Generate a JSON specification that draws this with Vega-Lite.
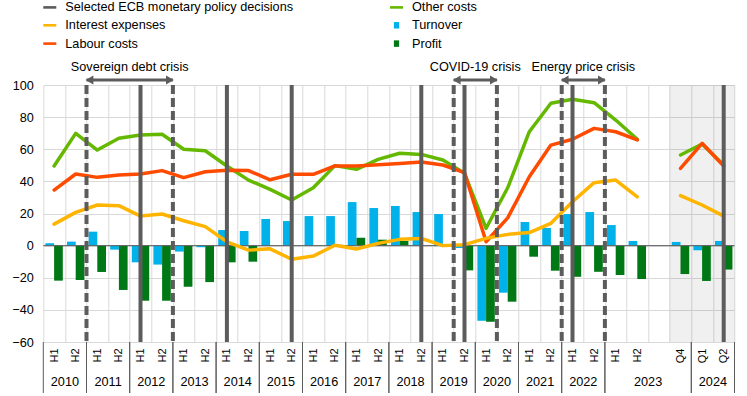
{
  "$schema": "https://vega.github.io/schema/vega-lite/v6.json",
  "width": 691.2,
  "height": 257,
  "autosize": {"type": "none"},
  "padding": {"left": 43.3, "top": 85, "right": 12.5, "bottom": 54},
  "background": "white",
  "config": {
    "font": "Liberation Sans",
    "view": {"stroke": null},
    "axis": {"labelFont": "Liberation Sans", "labelColor": "#000000", "title": null}
  },
  "datasets": {
    "costs": [
      {"period": "2010 H1", "freq": "half-year", "Turnover": 1.5, "Profit": -21.8, "Labour costs": 34.6, "Other costs": 49.6, "Interest expenses": 13.4},
      {"period": "2010 H2", "freq": "half-year", "Turnover": 2.5, "Profit": -21.4, "Labour costs": 44.6, "Other costs": 69.9, "Interest expenses": 20.7},
      {"period": "2011 H1", "freq": "half-year", "Turnover": 8.7, "Profit": -16.4, "Labour costs": 42.5, "Other costs": 59.5, "Interest expenses": 25.3},
      {"period": "2011 H2", "freq": "half-year", "Turnover": -2.5, "Profit": -27.6, "Labour costs": 44, "Other costs": 66.8, "Interest expenses": 24.9},
      {"period": "2012 H1", "freq": "half-year", "Turnover": -10.4, "Profit": -34.3, "Labour costs": 44.6, "Other costs": 68.9, "Interest expenses": 18.4},
      {"period": "2012 H2", "freq": "half-year", "Turnover": -11.8, "Profit": -34.3, "Labour costs": 46.7, "Other costs": 69.3, "Interest expenses": 19.7},
      {"period": "2013 H1", "freq": "half-year", "Turnover": -3.7, "Profit": -25.6, "Labour costs": 42.3, "Other costs": 60, "Interest expenses": 15.5},
      {"period": "2013 H2", "freq": "half-year", "Turnover": -1, "Profit": -22.7, "Labour costs": 46, "Other costs": 59.1, "Interest expenses": 11.8},
      {"period": "2014 H1", "freq": "half-year", "Turnover": 9.7, "Profit": -10.4, "Labour costs": 47, "Other costs": 49.6, "Interest expenses": 2.4},
      {"period": "2014 H2", "freq": "half-year", "Turnover": 9.1, "Profit": -10, "Labour costs": 46.7, "Other costs": 40.8, "Interest expenses": -2.8},
      {"period": "2015 H1", "freq": "half-year", "Turnover": 16.6, "Profit": 0, "Labour costs": 41, "Other costs": 35, "Interest expenses": -2},
      {"period": "2015 H2", "freq": "half-year", "Turnover": 15.3, "Profit": 0, "Labour costs": 44.4, "Other costs": 28.4, "Interest expenses": -8.5},
      {"period": "2016 H1", "freq": "half-year", "Turnover": 18.4, "Profit": 0, "Labour costs": 44.4, "Other costs": 36, "Interest expenses": -6.5},
      {"period": "2016 H2", "freq": "half-year", "Turnover": 18.4, "Profit": 0.5, "Labour costs": 49.6, "Other costs": 49.8, "Interest expenses": 0.2},
      {"period": "2017 H1", "freq": "half-year", "Turnover": 27.1, "Profit": 4.9, "Labour costs": 49.6, "Other costs": 47.5, "Interest expenses": -2.1},
      {"period": "2017 H2", "freq": "half-year", "Turnover": 23.4, "Profit": 3.7, "Labour costs": 50.4, "Other costs": 53.7, "Interest expenses": 1.4},
      {"period": "2018 H1", "freq": "half-year", "Turnover": 24.7, "Profit": 2.9, "Labour costs": 51.2, "Other costs": 57.5, "Interest expenses": 3.9},
      {"period": "2018 H2", "freq": "half-year", "Turnover": 20.9, "Profit": 0, "Labour costs": 52, "Other costs": 56.8, "Interest expenses": 4.5},
      {"period": "2019 H1", "freq": "half-year", "Turnover": 19.7, "Profit": 0, "Labour costs": 50.2, "Other costs": 53.3, "Interest expenses": 0},
      {"period": "2019 H2", "freq": "half-year", "Turnover": -1.5, "Profit": -15.4, "Labour costs": 45.4, "Other costs": 45, "Interest expenses": 0.6},
      {"period": "2020 H1", "freq": "half-year", "Turnover": -46.8, "Profit": -47.4, "Labour costs": 2.4, "Other costs": 10.8, "Interest expenses": 4.5},
      {"period": "2020 H2", "freq": "half-year", "Turnover": -29.3, "Profit": -34.9, "Labour costs": 17.3, "Other costs": 36, "Interest expenses": 7},
      {"period": "2021 H1", "freq": "half-year", "Turnover": 14.7, "Profit": -6.9, "Labour costs": 42.9, "Other costs": 70.9, "Interest expenses": 8.1},
      {"period": "2021 H2", "freq": "half-year", "Turnover": 11, "Profit": -15.6, "Labour costs": 62.6, "Other costs": 88.6, "Interest expenses": 13.9},
      {"period": "2022 H1", "freq": "half-year", "Turnover": 19.7, "Profit": -19.4, "Labour costs": 66.2, "Other costs": 91.1, "Interest expenses": 27.3},
      {"period": "2022 H2", "freq": "half-year", "Turnover": 20.9, "Profit": -16.3, "Labour costs": 73, "Other costs": 89, "Interest expenses": 39.2},
      {"period": "2023 H1", "freq": "half-year", "Turnover": 12.8, "Profit": -18.3, "Labour costs": 70.9, "Other costs": 78.2, "Interest expenses": 40.8},
      {"period": "2023 H2", "freq": "half-year", "Turnover": 2.9, "Profit": -20.8, "Labour costs": 65.8, "Other costs": 66.2, "Interest expenses": 30.4},
      {"period": "2023 Q4", "freq": "quarter", "Turnover": 2.3, "Profit": -17.7, "Labour costs": 48.1, "Other costs": 56.4, "Interest expenses": 31.1},
      {"period": "2024 Q1", "freq": "quarter", "Turnover": -2.9, "Profit": -22, "Labour costs": 63.7, "Other costs": 63.3, "Interest expenses": 25.3},
      {"period": "2024 Q2", "freq": "quarter", "Turnover": 2.9, "Profit": -14.9, "Labour costs": 49.6, "Other costs": 50.2, "Interest expenses": 18.4}
    ],
    "decisions": [
      {"period": "2012 H1"}, {"period": "2014 H1"}, {"period": "2015 H2"}, {"period": "2018 H2"},
      {"period": "2019 H2"}, {"period": "2022 H1"}, {"period": "2024 Q2"}
    ],
    "crises": [
      {"crisis": "Sovereign debt crisis", "start": "2011 H1", "mid": "2012 H1", "end": "2013 H1"},
      {"crisis": "COVID-19 crisis", "start": "2019 H2", "mid": "2020 H1", "end": "2020 H2"},
      {"crisis": "Energy price crisis", "start": "2022 H1", "mid": "2022 H2", "end": "2023 H1"}
    ],
    "years": [
      {"year": "2010", "first": "2010 H1", "center": "2010 H2", "last": "2010 H2"},
      {"year": "2011", "first": "2011 H1", "center": "2011 H2", "last": "2011 H2"},
      {"year": "2012", "first": "2012 H1", "center": "2012 H2", "last": "2012 H2"},
      {"year": "2013", "first": "2013 H1", "center": "2013 H2", "last": "2013 H2"},
      {"year": "2014", "first": "2014 H1", "center": "2014 H2", "last": "2014 H2"},
      {"year": "2015", "first": "2015 H1", "center": "2015 H2", "last": "2015 H2"},
      {"year": "2016", "first": "2016 H1", "center": "2016 H2", "last": "2016 H2"},
      {"year": "2017", "first": "2017 H1", "center": "2017 H2", "last": "2017 H2"},
      {"year": "2018", "first": "2018 H1", "center": "2018 H2", "last": "2018 H2"},
      {"year": "2019", "first": "2019 H1", "center": "2019 H2", "last": "2019 H2"},
      {"year": "2020", "first": "2020 H1", "center": "2020 H2", "last": "2020 H2"},
      {"year": "2021", "first": "2021 H1", "center": "2021 H2", "last": "2021 H2"},
      {"year": "2022", "first": "2022 H1", "center": "2022 H2", "last": "2022 H2"},
      {"year": "2023", "first": "2023 H1", "center": "2023 gap", "last": "2023 Q4"},
      {"year": "2024", "first": "2024 Q1", "center": "2024 Q2", "last": "2024 Q2"}
    ]
  },
  "layer": [
    {
      "data": {"name": "costs"},
      "transform": [{"filter": "datum.freq === 'quarter'"}],
      "mark": {"type": "bar", "color": "#000000", "opacity": 0.06},
      "encoding": {
        "x": {
          "field": "period", "type": "nominal", "sort": null,
          "scale": {
            "domain": ["2010 H1","2010 H2","2011 H1","2011 H2","2012 H1","2012 H2","2013 H1","2013 H2","2014 H1","2014 H2","2015 H1","2015 H2","2016 H1","2016 H2","2017 H1","2017 H2","2018 H1","2018 H2","2019 H1","2019 H2","2020 H1","2020 H2","2021 H1","2021 H2","2022 H1","2022 H2","2023 H1","2023 H2","2023 gap","2023 Q4","2024 Q1","2024 Q2"],
            "paddingInner": 0, "paddingOuter": 0
          },
          "axis": {"orient": "bottom", "tickBand": "extent", "grid": true, "gridColor": "#d9d9d9", "ticks": false, "domain": false, "labelAngle": 270, "labelPadding": 6, "labelFontSize": 11, "labelOverlap": false, "labelExpr": "isString(datum.value) && indexof(datum.value, 'gap') < 0 ? slice(datum.value, 5) : ''"}
        },
        "y": {"datum": 100, "type": "quantitative"},
        "y2": {"datum": -60}
      }
    },
    {
      "data": {"name": "costs"},
      "transform": [{"fold": ["Turnover", "Profit"], "as": ["series", "value"]}],
      "mark": {"type": "bar"},
      "encoding": {
        "x": {"field": "period", "type": "nominal", "sort": null},
        "xOffset": {"field": "series", "type": "nominal", "sort": ["Turnover", "Profit"], "scale": {"paddingInner": 0, "paddingOuter": 0.24}},
        "y": {
          "field": "value", "type": "quantitative",
          "scale": {"domain": [-60, 100], "nice": false, "zero": false},
          "axis": {"title": null, "values": [-60, -40, -20, 0, 20, 40, 60, 80, 100], "tickCount": 20, "grid": true, "gridColor": "#d9d9d9", "ticks": false, "domain": false, "labelPadding": 10, "labelFontSize": 12.7}
        },
        "color": {
          "field": "series", "type": "nominal",
          "scale": {
            "domain": ["Selected ECB monetary policy decisions", "Interest expenses", "Labour costs", "Other costs", "Turnover", "Profit"],
            "range": ["#5c5c5c", "#ffb400", "#ff4b00", "#65b800", "#00b1ea", "#007816"]
          },
          "legend": {
            "title": null, "orient": "none", "legendX": 0, "legendY": -84.5, "columns": 2, "columnPadding": 96.7, "rowPadding": 4.3,
            "symbolSize": 169, "labelOffset": 9, "labelFontSize": 12.7, "labelColor": "#000000", "labelLimit": 400,
            "encode": {
              "symbols": {
                "update": {
                  "shape": {"signal": "(datum.value === 'Turnover' || datum.value === 'Profit') ? 'M-0.4,-0.5H0.4V0.5H-0.4Z' : 'M-1,-0.2H1V0.2H-1Z'"},
                  "fill": {"scale": "color", "field": "value"},
                  "stroke": {"value": "transparent"},
                  "strokeWidth": {"value": 0},
                  "opacity": {"value": 1}
                }
              }
            }
          }
        }
      }
    },
    {
      "data": {"values": [{}]},
      "mark": {"type": "rule", "color": "#5c5c5c", "strokeWidth": 1},
      "encoding": {"y": {"datum": 0, "type": "quantitative"}}
    },
    {
      "data": {"name": "costs"},
      "transform": [{"fold": ["Other costs", "Labour costs", "Interest expenses"], "as": ["series", "value"]}],
      "mark": {"type": "line", "strokeWidth": 3.5, "strokeCap": "round", "strokeJoin": "round"},
      "encoding": {
        "x": {"field": "period", "type": "nominal", "sort": null},
        "y": {"field": "value", "type": "quantitative"},
        "color": {"field": "series", "type": "nominal"},
        "detail": {"field": "freq", "type": "nominal"}
      }
    },
    {
      "data": {"name": "decisions"},
      "mark": {"type": "rule", "strokeWidth": 4},
      "encoding": {
        "x": {"field": "period", "type": "nominal", "sort": null, "bandPosition": 0.5},
        "color": {"datum": "Selected ECB monetary policy decisions", "type": "nominal"}
      }
    },
    {
      "data": {"name": "crises"},
      "transform": [{"fold": ["start", "end"], "as": ["edge", "period"]}],
      "mark": {"type": "rule", "strokeWidth": 4, "strokeDash": [9, 4], "color": "#5c5c5c"},
      "encoding": {
        "x": {"field": "period", "type": "nominal", "sort": null, "bandPosition": 0}
      }
    },
    {
      "data": {"name": "crises"},
      "transform": [{"fold": ["start", "end"], "as": ["edge", "period"]}],
      "mark": {"type": "line", "strokeWidth": 3, "color": "#5c5c5c"},
      "encoding": {
        "x": {"field": "period", "type": "nominal", "sort": null, "bandPosition": 0},
        "y": {"datum": 103.1, "type": "quantitative"},
        "detail": {"field": "crisis", "type": "nominal"}
      }
    },
    {
      "data": {"name": "crises"},
      "mark": {"type": "point", "shape": "triangle-left", "filled": true, "size": 80, "opacity": 1, "color": "#5c5c5c", "xOffset": 3},
      "encoding": {
        "x": {"field": "start", "type": "nominal", "sort": null, "bandPosition": 0},
        "y": {"datum": 103.1, "type": "quantitative"}
      }
    },
    {
      "data": {"name": "crises"},
      "mark": {"type": "point", "shape": "triangle-right", "filled": true, "size": 80, "opacity": 1, "color": "#5c5c5c", "xOffset": -3},
      "encoding": {
        "x": {"field": "end", "type": "nominal", "sort": null, "bandPosition": 0},
        "y": {"datum": 103.1, "type": "quantitative"}
      }
    },
    {
      "data": {"name": "crises"},
      "mark": {"type": "text", "fontSize": 12.7, "color": "#000000", "baseline": "middle", "align": "center"},
      "encoding": {
        "x": {"field": "mid", "type": "nominal", "sort": null, "bandPosition": 0},
        "y": {"datum": 111.2, "type": "quantitative"},
        "text": {"field": "crisis", "type": "nominal"}
      }
    },
    {
      "data": {"name": "years"},
      "mark": {"type": "rule", "color": "#5c5c5c", "strokeWidth": 1, "y2Offset": 51},
      "encoding": {
        "x": {"field": "first", "type": "nominal", "sort": null, "bandPosition": 0},
        "y": {"datum": -60, "type": "quantitative"},
        "y2": {"datum": -60}
      }
    },
    {
      "data": {"name": "years"},
      "mark": {"type": "rule", "color": "#5c5c5c", "strokeWidth": 1, "y2Offset": 51},
      "encoding": {
        "x": {"field": "last", "type": "nominal", "sort": null, "bandPosition": 1},
        "y": {"datum": -60, "type": "quantitative"},
        "y2": {"datum": -60}
      }
    },
    {
      "data": {"name": "years"},
      "mark": {"type": "text", "fontSize": 12.7, "color": "#000000", "baseline": "middle", "align": "center", "dy": 40},
      "encoding": {
        "x": {"field": "center", "type": "nominal", "sort": null, "bandPosition": 0},
        "y": {"datum": -60, "type": "quantitative"},
        "text": {"field": "year", "type": "nominal"}
      }
    }
  ]
}
